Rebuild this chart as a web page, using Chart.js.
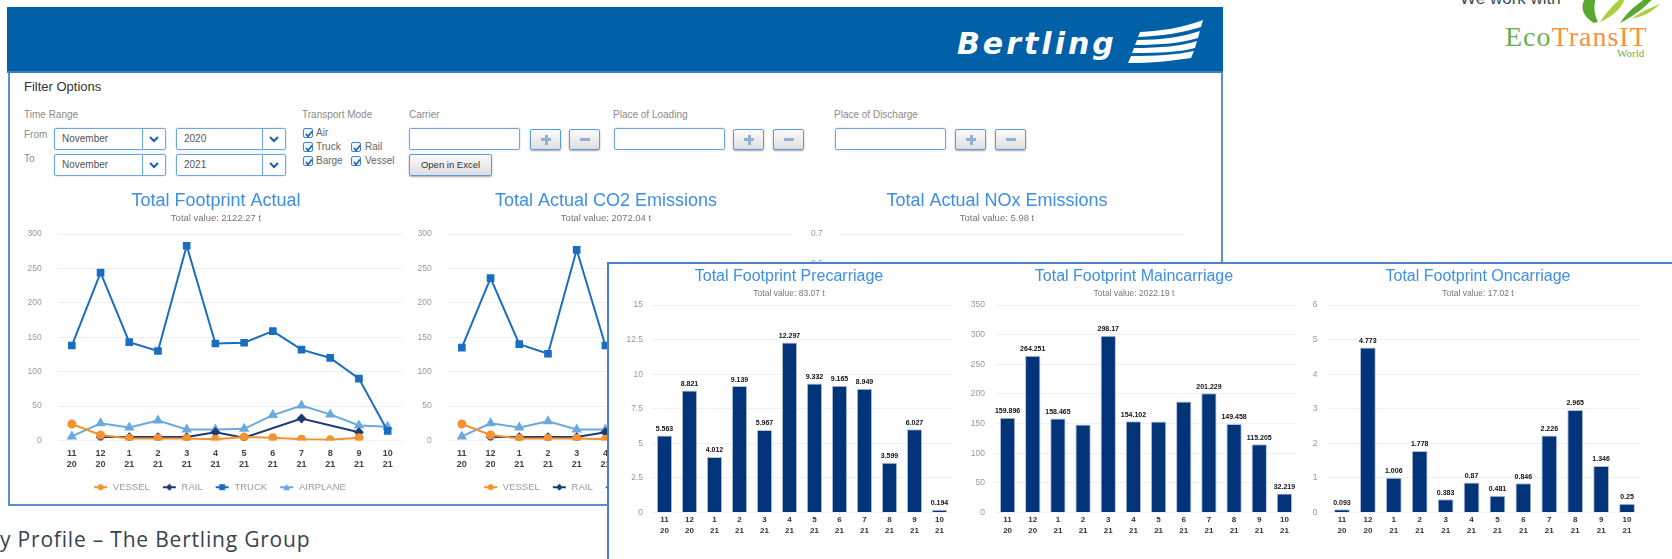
<!DOCTYPE html>
<html lang="en">
<head>
<meta charset="UTF-8">
<title>Bertling Footprint Dashboard</title>
<script src="https://cdn.jsdelivr.net/npm/chart.js"></script>
<style>
  body { margin:0; width:1672px; height:559px; overflow:hidden; position:relative; background:#fff; font-family:"Liberation Sans", Arial, sans-serif; }
  .abs { position:absolute; }
  .header { left:7px; top:7px; width:1216px; height:66px; background:#0060a8; border-bottom:2px solid #3f7fc4; box-sizing:border-box; }
  .brand { left:957px; top:26px; line-height:30px; color:#fff; font:italic bold 30px "DejaVu Sans", sans-serif; letter-spacing:3px; }
  .panel { left:8px; top:73px; width:1211px; height:431px; border:2px solid #5b8fd0; border-top:none; }
  .lbl { font-size:10px; color:#8a8a8a; line-height:12px; }
  .sel { height:22px; border:1px solid #6ea6e0; border-radius:2px; box-shadow:0 0 2px #a8cdf2; box-sizing:border-box; font-size:10px; color:#555; line-height:20px; padding-left:7px; }
  .sel .arr { position:absolute; right:0; top:0; width:22px; height:20px; border-left:1px solid #6ea6e0; }
  .inp { height:22px; border:1px solid #6ea6e0; border-radius:2px; box-shadow:0 0 2px #a8cdf2; box-sizing:border-box; }
  .btn { width:31px; height:21px; border:1px solid #5c9ae0; border-radius:2px; box-sizing:border-box; background:linear-gradient(#fbfbfb,#dedede); box-shadow:0 1px 2px rgba(0,0,0,.35); }
  .btn .h { position:absolute; left:10px; top:8px; width:10px; height:3px; background:#8fb0d3; }
  .btn .v { position:absolute; left:13.5px; top:4.5px; width:3px; height:10px; background:#8fb0d3; }
  .cb { width:10px; height:10px; border:1px solid #3f83cc; border-radius:2px; background:#eef5fc; box-sizing:border-box; }
  .cb svg { position:absolute; left:0; top:0; }
  .cbt { font-size:10px; color:#666; line-height:12px; }
  .overlay { left:607px; top:262px; width:1070px; height:310px; border:2px solid #4f81c7; background:#fff; z-index:5; }
  canvas { position:absolute; }
</style>
</head>
<body>
  <div class="abs panel"></div>
  <div class="abs header"></div>
  <div class="abs brand">Bertling</div>
  <svg class="abs" style="left:1126px;top:20px" width="80" height="44">
    <g fill="#fff">
      <path d="M14,12 C35,11 56,8 77,0 L75,7 C56,13 35,16 12,17 Z"/>
      <path d="M11,20 C35,20 56,17 74,11 L72,18 C55,23 35,25 9,25 Z"/>
      <path d="M8,28 C35,28 55,26 71,21 L69,28 C55,32 35,33 6,33 Z"/>
      <path d="M5,36 C30,36 50,35 68,31 L65,38 C45,41 25,43 2,43 Z"/>
    </g>
  </svg>

  <!-- filter options -->
  <div class="abs" style="left:24px;top:79px;font-size:13px;color:#333">Filter Options</div>
  <div class="abs lbl" style="left:24px;top:109px">Time Range</div>
  <div class="abs lbl" style="left:24px;top:129px">From</div>
  <div class="abs lbl" style="left:24px;top:153px">To</div>
  <div class="abs sel" style="left:54px;top:128px;width:112px">November<span class="arr"><svg width="22" height="20"><polyline points="7,8 11,12 15,8" fill="none" stroke="#1d5fa8" stroke-width="2"/></svg></span></div>
  <div class="abs sel" style="left:176px;top:128px;width:110px">2020<span class="arr"><svg width="22" height="20"><polyline points="7,8 11,12 15,8" fill="none" stroke="#1d5fa8" stroke-width="2"/></svg></span></div>
  <div class="abs sel" style="left:54px;top:154px;width:112px">November<span class="arr"><svg width="22" height="20"><polyline points="7,8 11,12 15,8" fill="none" stroke="#1d5fa8" stroke-width="2"/></svg></span></div>
  <div class="abs sel" style="left:176px;top:154px;width:110px">2021<span class="arr"><svg width="22" height="20"><polyline points="7,8 11,12 15,8" fill="none" stroke="#1d5fa8" stroke-width="2"/></svg></span></div>

  <div class="abs lbl" style="left:302px;top:109px">Transport Mode</div>
  <div class="abs cb" style="left:303px;top:128px"><svg width="10" height="10"><polyline points="2,5 4,7.5 8,2.5" fill="none" stroke="#1d5fa8" stroke-width="1.6"/></svg></div>
  <div class="abs cbt" style="left:316px;top:127px">Air</div>
  <div class="abs cb" style="left:303px;top:142px"><svg width="10" height="10"><polyline points="2,5 4,7.5 8,2.5" fill="none" stroke="#1d5fa8" stroke-width="1.6"/></svg></div>
  <div class="abs cbt" style="left:316px;top:141px">Truck</div>
  <div class="abs cb" style="left:351px;top:142px"><svg width="10" height="10"><polyline points="2,5 4,7.5 8,2.5" fill="none" stroke="#1d5fa8" stroke-width="1.6"/></svg></div>
  <div class="abs cbt" style="left:365px;top:141px">Rail</div>
  <div class="abs cb" style="left:303px;top:156px"><svg width="10" height="10"><polyline points="2,5 4,7.5 8,2.5" fill="none" stroke="#1d5fa8" stroke-width="1.6"/></svg></div>
  <div class="abs cbt" style="left:316px;top:155px">Barge</div>
  <div class="abs cb" style="left:351px;top:156px"><svg width="10" height="10"><polyline points="2,5 4,7.5 8,2.5" fill="none" stroke="#1d5fa8" stroke-width="1.6"/></svg></div>
  <div class="abs cbt" style="left:365px;top:155px">Vessel</div>

  <div class="abs lbl" style="left:409px;top:109px">Carrier</div>
  <div class="abs inp" style="left:409px;top:128px;width:111px"></div>
  <div class="abs btn" style="left:530px;top:129px"><span class="h"></span><span class="v"></span></div>
  <div class="abs btn" style="left:569px;top:129px"><span class="h"></span></div>
  <div class="abs btn" style="left:409px;top:154px;width:83px;height:22px;font-size:9.5px;color:#333;line-height:20px;text-align:center">Open in Excel</div>

  <div class="abs lbl" style="left:613px;top:109px">Place of Loading</div>
  <div class="abs inp" style="left:614px;top:128px;width:111px"></div>
  <div class="abs btn" style="left:733px;top:129px"><span class="h"></span><span class="v"></span></div>
  <div class="abs btn" style="left:773px;top:129px"><span class="h"></span></div>

  <div class="abs lbl" style="left:834px;top:109px">Place of Discharge</div>
  <div class="abs inp" style="left:835px;top:128px;width:111px"></div>
  <div class="abs btn" style="left:955px;top:129px"><span class="h"></span><span class="v"></span></div>
  <div class="abs btn" style="left:995px;top:129px"><span class="h"></span></div>

  <!-- line charts -->
  <canvas id="actualChart" width="404" height="319" style="left:14px;top:183px;z-index:1"></canvas>
  <canvas id="co2Chart" width="404" height="319" style="left:404px;top:183px;z-index:1"></canvas>
  <canvas id="noxChart" width="404" height="319" style="left:795px;top:183px;z-index:1"></canvas>

  <!-- overlay with bar charts -->
  <div class="abs overlay"></div>
  <canvas id="preChart" width="330" height="276" style="left:624px;top:264px;z-index:6"></canvas>
  <canvas id="mainChart" width="332" height="276" style="left:968px;top:264px;z-index:6"></canvas>
  <canvas id="onChart" width="334" height="276" style="left:1311px;top:264px;z-index:6"></canvas>

  <!-- EcoTransIT -->
  <div class="abs" style="left:1460px;top:-11px;font-size:17px;line-height:20px;color:#404a55">We work with</div>
  <svg class="abs" style="left:1570px;top:-12px" width="92" height="36">
    <path d="M24,35 C6,24 10,8 30,0 C24,12 22,22 28,34 Z" fill="#5aa832"/>
    <path d="M30,34 C44,28 54,18 56,6 C46,14 38,22 30,34 Z" fill="#a9cf3c"/>
    <path d="M50,35 C64,28 78,18 90,2 C72,12 60,20 50,35 Z" fill="#5aa832"/>
    <path d="M62,31 C74,28 82,24 90,16 C78,21 70,24 62,31 Z" fill="#a9cf3c"/>
  </svg>
  <div class="abs" style="left:1505px;top:21px;line-height:28px;font:28px 'Liberation Serif', serif;letter-spacing:1px"><span style="color:#6ab04c">Eco</span><span style="color:#f7923a">TransIT</span></div>
  <div class="abs" style="left:1617px;top:47px;line-height:12px;font:11px 'Liberation Serif', serif;color:#6ab04c">World</div>

  <div class="abs" style="left:0px;top:525px;font:21px 'Open Sans', sans-serif;letter-spacing:0.8px;line-height:28px;color:#34444f">y Profile – The Bertling Group</div>

<script>
// months on the x axis (month / year)
const months = [['11','20'],['12','20'],['1','21'],['2','21'],['3','21'],['4','21'],['5','21'],['6','21'],['7','21'],['8','21'],['9','21'],['10','21']];

// Total Footprint Actual (t)
const actVessel   = [24, 8, 3, 3, 3, 2, 5, 4, 2, 1, 4, null];
const actRail     = [null, 5, 5, 5, 5, 12, 4, null, 32, null, 12, null];
const actTruck    = [138, 244, 143, 130, 283, 141, 142, 159, 132, 120, 90, 14];
const actAirplane = [6, 25, 19, 29, 16, 16, 17, 37, 51, 38, 22, 20];

// Total Actual CO2 Emissions (t)
const co2Vessel   = [24, 8, 3, 3, 3, 2, 5, 4, 2, 1, 4, null];
const co2Rail     = [null, 5, 5, 5, 5, 12, 4, null, 31, null, 12, null];
const co2Truck    = [135, 236, 140, 126, 277, 138, 139, 155, 129, 117, 88, 14];
const co2Airplane = [6, 25, 19, 28, 16, 16, 17, 36, 50, 37, 22, 19];

// Total Actual NOx Emissions (t)
const noxVessel   = [0.08, 0.03, 0.01, 0.01, 0.01, 0.01, 0.02, 0.01, 0.01, 0.01, 0.01, null];
const noxRail     = [null, 0.01, 0.01, 0.01, 0.01, 0.02, 0.01, null, 0.05, null, 0.02, null];
const noxTruck    = [0.44, 0.54, 0.45, 0.41, 0.55, 0.44, 0.45, 0.50, 0.42, 0.38, 0.29, 0.05];
const noxAirplane = [0.01, 0.04, 0.03, 0.05, 0.03, 0.03, 0.03, 0.06, 0.08, 0.06, 0.04, 0.03];

// bar charts
const preValues  = [5.563, 8.821, 4.012, 9.139, 5.967, 12.297, 9.332, 9.165, 8.949, 3.599, 6.027, 0.194];
const mainValues = [159.896, 264.251, 158.465, 148.3, 298.17, 154.102, 153.6, 187.3, 201.229, 149.458, 115.205, 32.219];
const mainNoLabel = [3, 6, 7];
const onValues   = [0.093, 4.773, 1.006, 1.778, 0.383, 0.87, 0.481, 0.846, 2.226, 2.965, 1.346, 0.25];

Chart.defaults.font.family = '"Liberation Sans", Arial, sans-serif';
Chart.defaults.animation = false;

const modes = [
    { label: 'VESSEL',   color: '#f5922f', shape: 'circle',   r: 3.5 },
    { label: 'RAIL',     color: '#1f3a70', shape: 'rectRot',  r: 3.5 },
    { label: 'TRUCK',    color: '#1a6ec2', shape: 'rect',     r: 4 },
    { label: 'AIRPLANE', color: '#6aa9e0', shape: 'triangle', r: 4 }
];

// "line + marker" legend icon, drawn in the right part of a 22px box
function legendIcon(color, shape) {
    const c = document.createElement('canvas');
    c.width = 22; c.height = 8;
    const g = c.getContext('2d');
    g.strokeStyle = color; g.fillStyle = color; g.lineWidth = 2;
    g.beginPath(); g.moveTo(8, 4); g.lineTo(21, 4); g.stroke();
    g.beginPath();
    const cx = 14.5;
    if (shape === 'circle') g.arc(cx, 4, 3, 0, Math.PI * 2);
    else if (shape === 'rect') g.rect(cx - 3, 1, 6, 6);
    else if (shape === 'rectRot') { g.moveTo(cx, 0.5); g.lineTo(cx + 3.5, 4); g.lineTo(cx, 7.5); g.lineTo(cx - 3.5, 4); }
    else { g.moveTo(cx, 0.5); g.lineTo(cx + 3.5, 7); g.lineTo(cx - 3.5, 7); }
    g.fill();
    return c;
}
const icons = modes.map(m => legendIcon(m.color, m.shape));

// y axis of fixed width; labels right-aligned "gap" px left of the plot
function yAxis(yMax, yStep, width, gap, widest) {
    return {
        min: 0, max: yMax,
        grid: { color: '#efefef', drawTicks: false }, border: { display: false },
        ticks: { stepSize: yStep, color: '#999', font: { size: 8.5 }, mirror: true, crossAlign: 'far', padding: -(gap + widest) },
        afterFit(scale) { scale.width = width; }
    };
}

function makeLine(id, title, total, series, yMax, yStep, widest) {
    new Chart(document.getElementById(id), {
        type: 'line',
        data: {
            labels: months,
            datasets: series.map((d, i) => ({
                label: modes[i].label,
                data: d,
                borderColor: modes[i].color,
                backgroundColor: modes[i].color,
                pointStyle: modes[i].shape,
                pointRadius: modes[i].r,
                borderWidth: 2,
                spanGaps: true
            }))
        },
        options: {
            responsive: false,
            layout: { padding: { left: 16, right: 16, top: 0, bottom: 0 } },
            plugins: {
                title: { display: true, text: title, color: '#3d8ee6', font: { size: 18, weight: 'normal' }, padding: { top: 7, bottom: 0 } },
                subtitle: { display: true, text: total, color: '#777', font: { size: 9.5 }, padding: { top: 1.5, bottom: 9.5 } },
                legend: {
                    position: 'bottom',
                    labels: {
                        color: '#9a9a9a', font: { size: 9.5 }, usePointStyle: true, pointStyleWidth: 22, padding: 5,
                        generateLabels(chart) {
                            const items = Chart.defaults.plugins.legend.labels.generateLabels(chart);
                            items.forEach((it, i) => { it.pointStyle = icons[i]; });
                            return items;
                        }
                    }
                },
                tooltip: { enabled: false }
            },
            scales: {
                x: {
                    offset: true,
                    grid: { display: false, drawTicks: false }, border: { display: false },
                    ticks: { color: '#444', font: { size: 9, weight: 'bold', lineHeight: 1.22 }, padding: 7.5, maxRotation: 0, autoSkip: false }
                },
                y: yAxis(yMax, yStep, 27.5, 15.8, widest)
            }
        }
    });
}

// value labels over the bars
const barLabels = {
    id: 'barLabels',
    afterDatasetsDraw(chart, args, opts) {
        const ctx = chart.ctx;
        const values = chart.data.datasets[0].data;
        const skip = opts.skip || [];
        ctx.save();
        ctx.font = 'bold 7px "Liberation Sans", Arial, sans-serif';
        ctx.fillStyle = '#111';
        ctx.textAlign = 'center';
        ctx.textBaseline = 'bottom';
        chart.getDatasetMeta(0).data.forEach((bar, i) => {
            if (skip.includes(i)) return;
            ctx.fillText(String(values[i]), bar.x, bar.y - 3);
        });
        ctx.restore();
    }
};

function makeBar(id, title, total, values, yMax, yStep, pad, axisWidth, gap, widest, skip) {
    new Chart(document.getElementById(id), {
        type: 'bar',
        data: {
            labels: months,
            datasets: [{
                data: values,
                backgroundColor: '#013479',
                borderColor: '#b3c1d8',
                borderWidth: 1,
                categoryPercentage: 1,
                barPercentage: 0.61
            }]
        },
        options: {
            responsive: false,
            layout: { padding: { left: pad[0], right: pad[1], top: 0, bottom: 2.5 } },
            plugins: {
                title: { display: true, text: title, color: '#3d8ee6', font: { size: 16, weight: 'normal' }, padding: { top: 3.4, bottom: 0 } },
                subtitle: { display: true, text: total, color: '#777', font: { size: 8.5 }, padding: { top: 2.3, bottom: 5.9 } },
                legend: { display: false },
                tooltip: { enabled: false },
                barLabels: { skip: skip }
            },
            scales: {
                x: {
                    grid: { display: false, drawTicks: false }, border: { display: false },
                    ticks: { color: '#333', font: { size: 8, weight: 'bold', lineHeight: 1.375 }, padding: 1.5, maxRotation: 0, autoSkip: false }
                },
                y: yAxis(yMax, yStep, axisWidth, gap, widest)
            }
        },
        plugins: [barLabels]
    });
}

makeLine('actualChart', 'Total Footprint Actual', 'Total value: 2122.27 t', [actVessel, actRail, actTruck, actAirplane], 300, 50, 14.2);
makeLine('co2Chart', 'Total Actual CO2 Emissions', 'Total value: 2072.04 t', [co2Vessel, co2Rail, co2Truck, co2Airplane], 300, 50, 14.2);
makeLine('noxChart', 'Total Actual NOx Emissions', 'Total value: 5.98 t', [noxVessel, noxRail, noxTruck, noxAirplane], 0.7, 0.1, 11.8);

makeBar('preChart', 'Total Footprint Precarriage', 'Total value: 83.07 t', preValues, 15, 2.5, [2, 2], 26, 9, 16.6, []);
makeBar('mainChart', 'Total Footprint Maincarriage', 'Total value: 2022.19 t', mainValues, 350, 50, [3, 3], 24, 10, 14.2, mainNoLabel);
makeBar('onChart', 'Total Footprint Oncarriage', 'Total value: 17.02 t', onValues, 6, 1, [5, 5], 13, 11.5, 4.7, []);
</script>
</body>
</html>
